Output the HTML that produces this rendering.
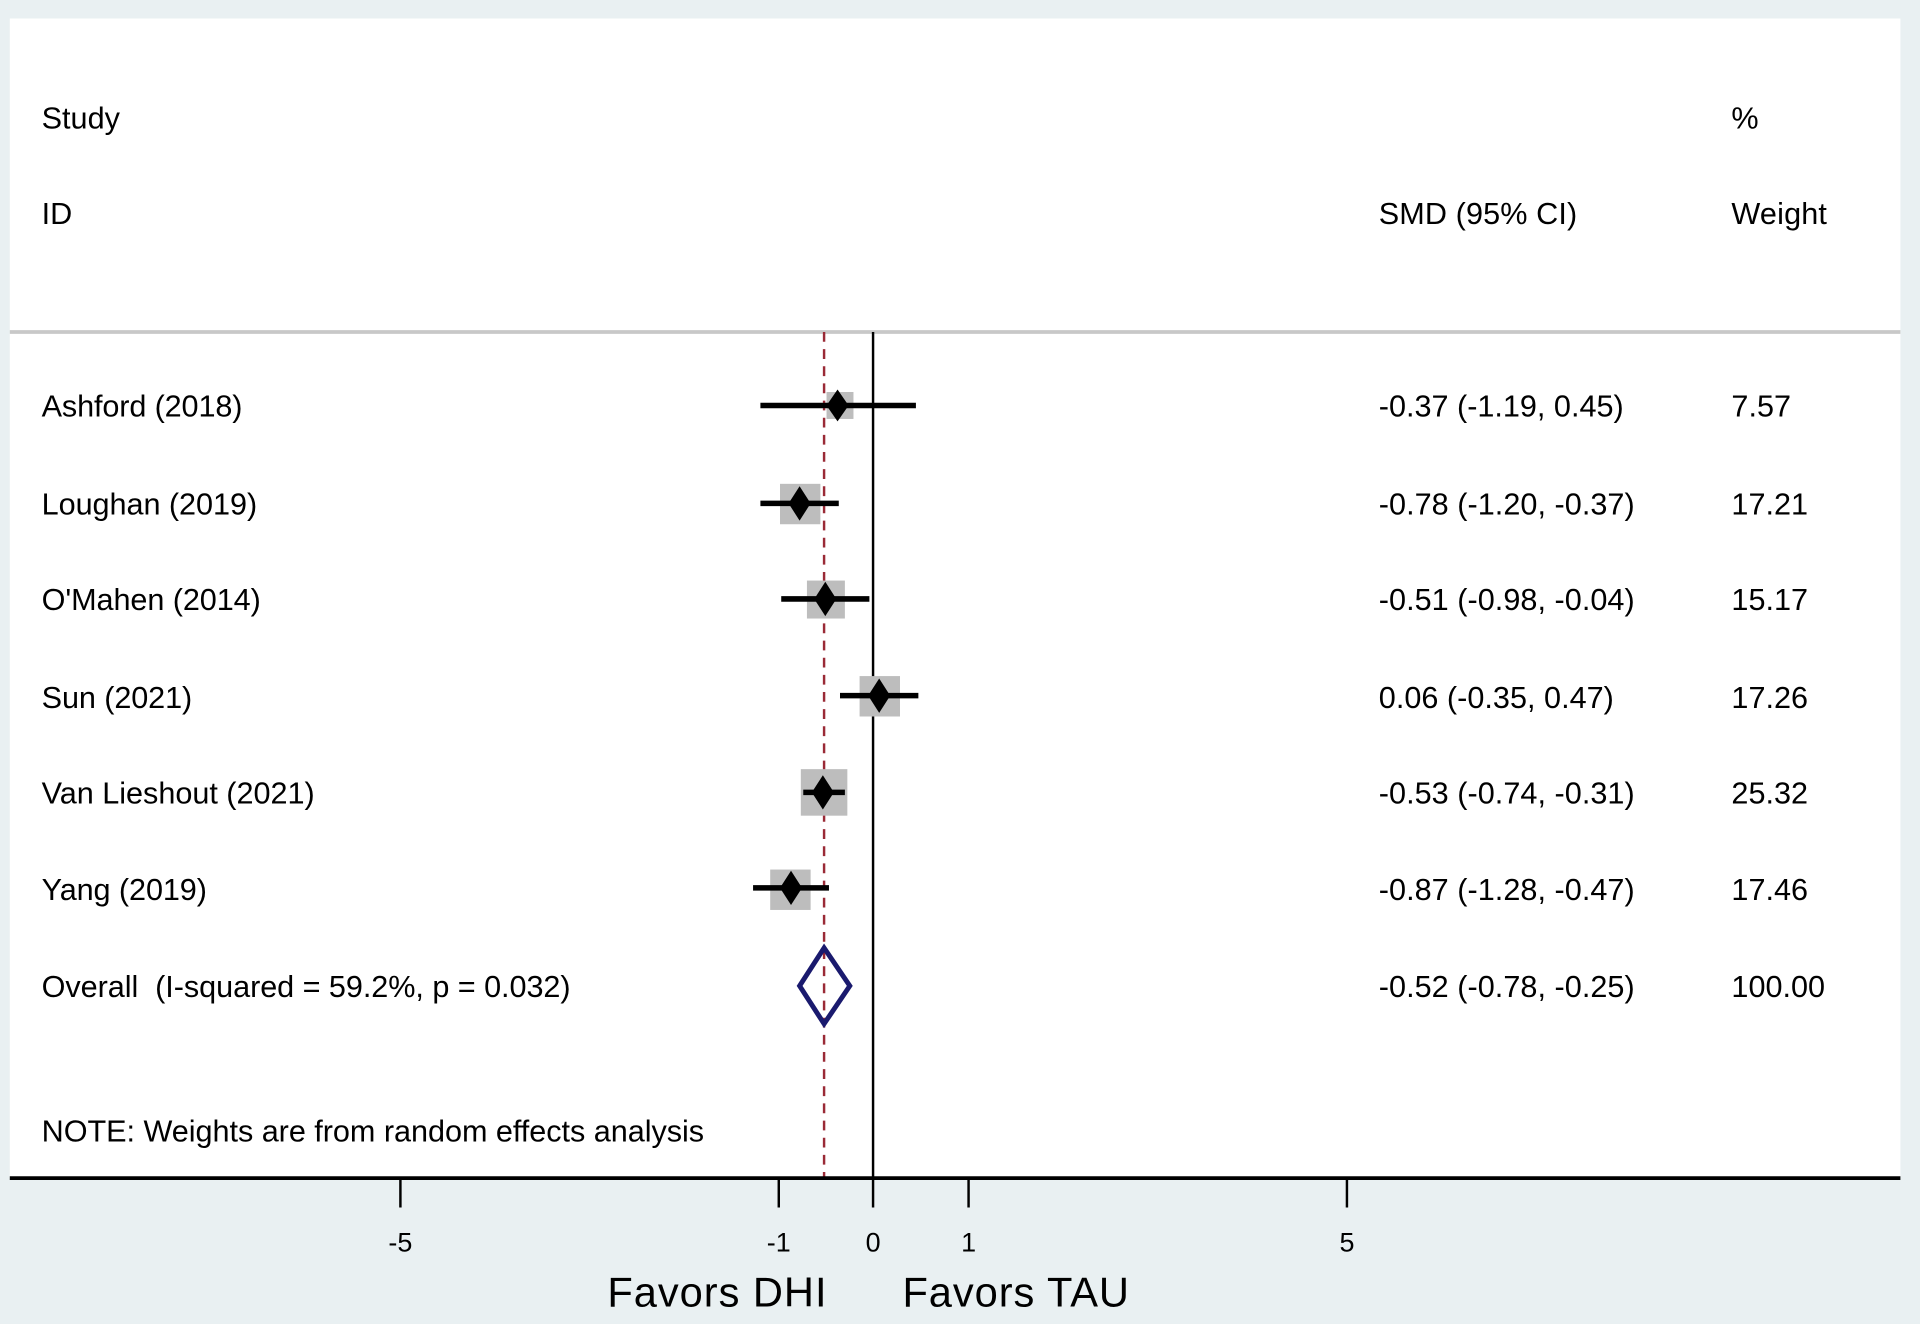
<!DOCTYPE html>
<html><head><meta charset="utf-8"><style>
html,body{margin:0;padding:0;background:#e9f0f2;}
svg{display:block;}
text{font-family:"Liberation Sans",Arial,sans-serif;fill:#000;}
</style></head><body>
<svg width="1920" height="1324" viewBox="0 0 1568 1081" xmlns="http://www.w3.org/2000/svg">
<rect x="0" y="0" width="1568" height="1081" fill="#e9f0f2"/>
<rect x="8" y="15" width="1544" height="947" fill="#ffffff"/>
<g font-size="25">
<text x="34" y="105">Study</text>
<text x="34" y="183">ID</text>
<text x="1126" y="183" textLength="162">SMD (95% CI)</text>
<text x="1414" y="105">%</text>
<text x="1414" y="183" textLength="78">Weight</text>
</g>
<line x1="8" y1="271" x2="1552" y2="271" stroke="#c8c8c8" stroke-width="3"/>
<line x1="713" y1="271" x2="713" y2="962" stroke="#000" stroke-width="2"/>
<line x1="673" y1="271" x2="673" y2="962" stroke="#9a2a36" stroke-width="2" stroke-dasharray="8,6"/>
<g font-size="25">
<text x="34" y="340" textLength="164">Ashford (2018)</text>
<text x="34" y="420" textLength="176">Loughan (2019)</text>
<text x="34" y="498" textLength="179">O'Mahen (2014)</text>
<text x="34" y="578" textLength="123">Sun (2021)</text>
<text x="34" y="656" textLength="223">Van Lieshout (2021)</text>
<text x="34" y="735" textLength="135">Yang (2019)</text>
<text x="34" y="814" textLength="432" xml:space="preserve">Overall  (I-squared = 59.2%, p = 0.032)</text>
<text x="1126" y="340" textLength="200">-0.37 (-1.19, 0.45)</text>
<text x="1126" y="420" textLength="209">-0.78 (-1.20, -0.37)</text>
<text x="1126" y="498" textLength="209">-0.51 (-0.98, -0.04)</text>
<text x="1126" y="578" textLength="192">0.06 (-0.35, 0.47)</text>
<text x="1126" y="656" textLength="209">-0.53 (-0.74, -0.31)</text>
<text x="1126" y="735" textLength="209">-0.87 (-1.28, -0.47)</text>
<text x="1126" y="814" textLength="209">-0.52 (-0.78, -0.25)</text>
<text x="1414" y="340">7.57</text>
<text x="1414" y="420">17.21</text>
<text x="1414" y="498">15.17</text>
<text x="1414" y="578">17.26</text>
<text x="1414" y="656">25.32</text>
<text x="1414" y="735">17.46</text>
<text x="1414" y="814">100.00</text>
<text x="34" y="932" textLength="541">NOTE: Weights are from random effects analysis</text>
</g>
<g fill="#bdbdbd">
<rect x="675" y="320" width="22" height="22"/>
<rect x="637" y="395" width="33" height="33"/>
<rect x="659" y="474" width="31" height="31"/>
<rect x="702" y="552" width="33" height="33"/>
<rect x="654" y="628" width="38" height="38"/>
<rect x="629" y="710" width="33" height="33"/>
</g>
<g stroke="#000" stroke-width="4.5">
<line x1="621" y1="331" x2="748" y2="331"/>
<line x1="621" y1="411" x2="685" y2="411"/>
<line x1="638" y1="489" x2="710" y2="489"/>
<line x1="686" y1="568" x2="750" y2="568"/>
<line x1="656" y1="647" x2="690" y2="647"/>
<line x1="615" y1="725" x2="677" y2="725"/>
</g>
<g fill="#000">
<polygon points="684,318 693,331 684,344 675,331"/>
<polygon points="653,397 662,411 653,425 644,411"/>
<polygon points="674,475 683,489 674,503 665,489"/>
<polygon points="718,554 727,568 718,582 709,568"/>
<polygon points="672,633 681,647 672,661 663,647"/>
<polygon points="646,711 655,725 646,739 637,725"/>
</g>
<polygon points="673,774 694,805 673,836 653,805" fill="none" stroke="#1a1a6e" stroke-width="4"/>
<line x1="8" y1="962" x2="1552" y2="962" stroke="#000" stroke-width="3"/>
<g stroke="#000" stroke-width="2">
<line x1="327" y1="962" x2="327" y2="986"/>
<line x1="636" y1="962" x2="636" y2="986"/>
<line x1="713" y1="962" x2="713" y2="986"/>
<line x1="791" y1="962" x2="791" y2="986"/>
<line x1="1100" y1="962" x2="1100" y2="986"/>
</g>
<g font-size="22" text-anchor="middle">
<text x="327" y="1022">-5</text>
<text x="636" y="1022">-1</text>
<text x="713" y="1022">0</text>
<text x="791" y="1022">1</text>
<text x="1100" y="1022">5</text>
</g>
<g font-size="34">
<text x="496" y="1067" textLength="179">Favors DHI</text>
<text x="737" y="1067" textLength="185">Favors TAU</text>
</g>
</svg>
</body></html>
